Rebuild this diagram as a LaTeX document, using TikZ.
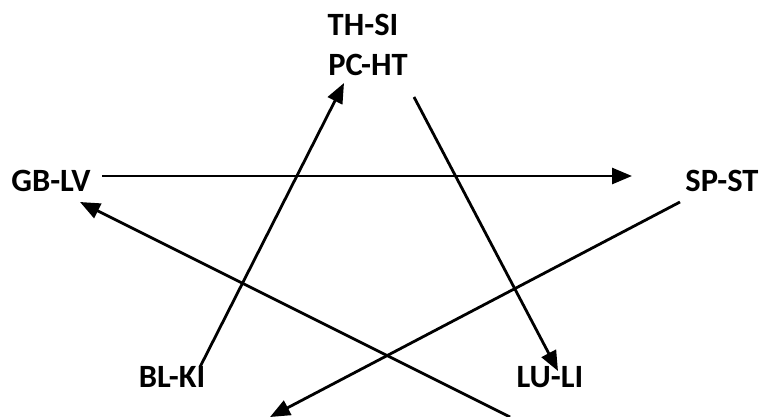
\documentclass[tikz,border=0pt]{standalone}
\usepackage{fontspec}
\setmainfont{Carlito}
\usetikzlibrary{arrows.meta}
\begin{document}
\begin{tikzpicture}[x=1pt,y=-1pt,
  lbl/.style={font=\bfseries\fontsize{32.5}{40}\selectfont, inner sep=0pt, align=center},
  conn/.style={line width=2.8pt, -{Triangle[length=20pt,width=16pt]}}]
\useasboundingbox (0,0) rectangle (761,416);
\node[lbl] (th) at (363,25) {TH-SI};
\node[lbl] (pc) at (368,65) {PC-HT};
\node[lbl] (gb) at (51,181) {GB-LV};
\node[lbl] (sp) at (722,181) {SP-ST};
\node[lbl] (bl) at (172,377) {BL-KI};
\node[lbl] (lu) at (550,377) {LU-LI};
\coordinate (a1) at (102,176);
\coordinate (b1) at (632,176);
\coordinate (a2) at (200,367);
\coordinate (b2) at (344,83);
\coordinate (a3) at (414,97);
\coordinate (b3) at (558,371);
\coordinate (a4) at (680,202);
\coordinate (b4) at (270,417);
\coordinate (a5) at (510,417);
\coordinate (b5) at (80,202);
\draw[conn] (a1) -- (b1);
\draw[conn] (a2) -- (b2);
\draw[conn] (a3) -- (b3);
\draw[conn] (a4) -- (b4);
\draw[conn] (a5) -- (b5);
\end{tikzpicture}
\end{document}
